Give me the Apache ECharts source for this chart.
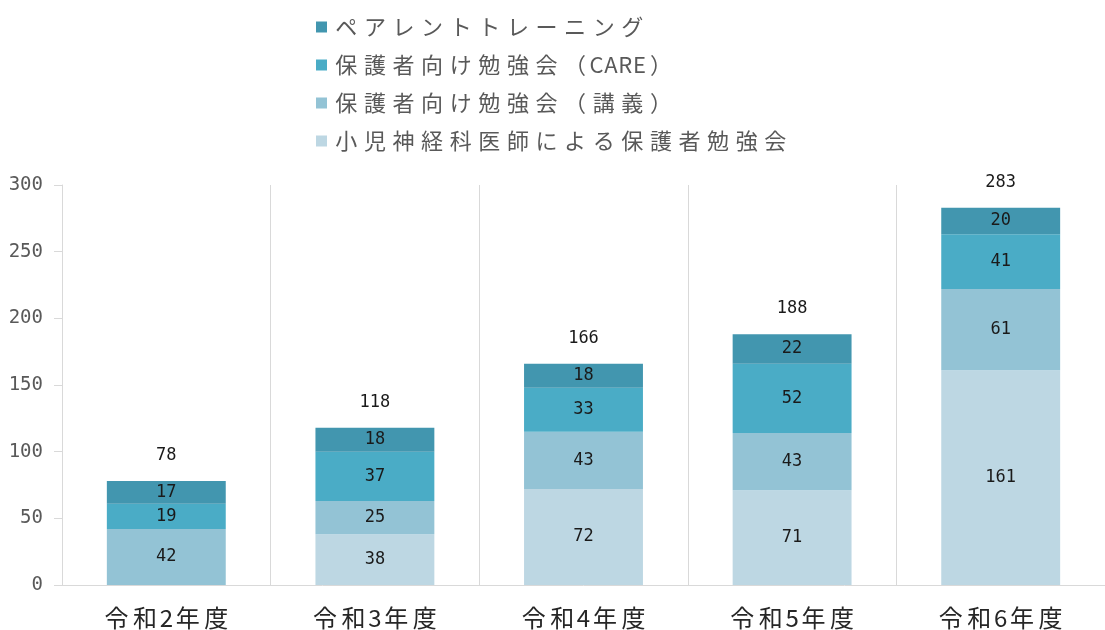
<!DOCTYPE html>
<html>
<head>
<meta charset="utf-8">
<script src="https://cdn.jsdelivr.net/npm/echarts@6/dist/echarts.min.js"></script>
<style>
  html, body { margin: 0; padding: 0; background: #fff; }
  #chart { width: 1105px; height: 630px; }
</style>
</head>
<body>
<div id="chart"></div>
<script>
// 年度
const categories = ['令和2年度', '令和3年度', '令和4年度', '令和5年度', '令和6年度']
// 各プログラムの参加者数
const shoniValues = [0, 38, 72, 71, 161]      // 小児神経科医師による保護者勉強会
const kogiValues = [42, 25, 43, 43, 61]       // 保護者向け勉強会（講義）
const careValues = [19, 37, 33, 52, 41]       // 保護者向け勉強会（CARE）
const parentValues = [17, 18, 18, 22, 20]     // ペアレントトレーニング
const totals = [78, 118, 166, 188, 283]
const yTicks = [0, 50, 100, 150, 200, 250, 300]

const JP = '"Noto Sans CJK JP", sans-serif'
const MONO = '"DejaVu Sans Mono", monospace'
const chart = echarts.init(document.getElementById('chart'))

// 等幅っぽく見せるため1文字ずつrichトークンに分ける
function spaced(text) {
  return text.split('').map(ch => (ch.charCodeAt(0) < 0x2000 ? '{h|' : '{f|') + ch + '}').join('')
}
function cells(full, size, color) {
  const base = { fontFamily: JP, fontSize: size, color, align: 'center', lineHeight: size + 2 }
  return { f: { ...base, width: full }, h: { ...base, width: full / 2 } }
}

function stackSeries(name, data, color) {
  return {
    name, type: 'bar', stack: 'total', data, barWidth: '57%',
    itemStyle: { color },
    label: {
      show: true, position: 'inside', color: '#1a1a1a', fontSize: 17, fontFamily: MONO,
      formatter: p => (p.value ? p.value : '')
    }
  }
}

chart.setOption({
  animation: false,
  legend: {
    orient: 'vertical', left: 311, top: 11, itemGap: 16,
    itemWidth: 11, itemHeight: 11, icon: 'rect',
    formatter: name => spaced(name),
    textStyle: { rich: cells(28.6, 22, '#595959') },
    data: ['ペアレントトレーニング', '保護者向け勉強会（CARE）', '保護者向け勉強会（講義）', '小児神経科医師による保護者勉強会']
  },
  grid: { left: 62, top: 185, width: 1050, height: 400, containLabel: false },
  xAxis: {
    type: 'category', data: categories,
    axisLine: { lineStyle: { color: '#d9d9d9' } },
    axisTick: { show: false },
    splitLine: { show: true, lineStyle: { color: '#d9d9d9' } },
    axisLabel: { margin: 20, formatter: v => spaced(v), rich: cells(28.5, 24, '#262626') }
  },
  yAxis: {
    type: 'value', min: yTicks[0], max: yTicks[yTicks.length - 1], interval: 50,
    axisLine: { show: true, lineStyle: { color: '#d9d9d9' } },
    axisTick: { show: true, length: 8, lineStyle: { color: '#d9d9d9' } },
    splitLine: { show: false },
    axisLabel: { fontSize: 19, color: '#595959', margin: 19, fontFamily: MONO }
  },
  series: [
    stackSeries('小児神経科医師による保護者勉強会', shoniValues, '#bdd7e3'),
    stackSeries('保護者向け勉強会（講義）', kogiValues, '#93c3d5'),
    stackSeries('保護者向け勉強会（CARE）', careValues, '#4aacc6'),
    stackSeries('ペアレントトレーニング', parentValues, '#4296af'),
    {
      name: '合計', type: 'scatter', data: totals, symbolSize: 0, silent: true,
      label: {
        show: true, position: 'top', distance: 17, opacity: 1,
        color: '#1a1a1a', fontSize: 17, fontFamily: MONO
      }
    }
  ]
})
</script>
</body>
</html>
